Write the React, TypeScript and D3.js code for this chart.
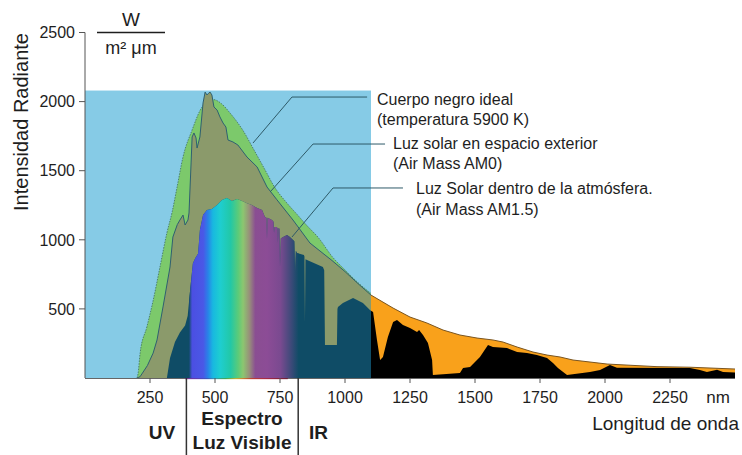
import React from "react";
import * as d3 from "d3";

const W = 742;
const H = 455;

// Blackbody (5900 K) curve — nm, W/(m² µm)
const bbNm = [200, 204, 212, 238, 262, 288, 315, 335, 354, 377, 412, 450, 492, 525, 558, 608, 650, 700, 723, 777, 815, 850, 900, 950, 1000, 1050, 1100];
const bbVal = [0, 30, 180, 370, 560, 800, 1050, 1200, 1380, 1600, 1795, 1960, 2015, 1985, 1917, 1790, 1650, 1480, 1400, 1265, 1185, 1110, 1010, 880, 782, 690, 612];

// AM0 (outer space)
const am0Nm = [200, 212, 240, 262, 277, 300, 327, 338, 355, 365, 377, 385, 396, 400, 408, 412, 419, 427, 431, 442, 454, 462, 469, 475, 481, 488, 496, 508, 519, 531, 542, 550, 569, 588, 623, 662, 700, 738, 800, 865, 950, 1000, 1050, 1100, 1185, 1250, 1315, 1377, 1442, 1508, 1569, 1608, 1662, 1723, 1777, 1827, 1877, 2008, 2200, 2327, 2500];
const am0Val = [0, 10, 90, 180, 275, 514, 803, 1020, 1110, 1143, 1179, 1107, 1143, 1194, 1556, 1744, 1773, 1737, 1664, 1744, 1990, 2069, 2048, 2060, 2069, 2048, 1961, 1939, 1889, 1845, 1816, 1722, 1708, 1686, 1599, 1527, 1382, 1290, 1143, 977, 850, 770, 683, 600, 506, 441, 398, 347, 311, 289, 275, 260, 224, 188, 166, 152, 130, 101, 82, 78, 65];

// AM1.5 (inside atmosphere)
const am15Nm = [315, 327, 346, 365, 385, 395, 405, 415, 425, 435, 442, 454, 469, 488, 508, 527, 546, 565, 585, 604, 623, 642, 662, 681, 692, 698, 700, 702, 719, 725, 727, 729, 738, 741, 742, 744, 748, 750, 753, 762, 777, 788, 800, 805, 808, 811, 815, 842, 844, 846, 848, 854, 915, 920, 923, 969, 971, 973, 992, 1031, 1069, 1096, 1108, 1123, 1135, 1146, 1165, 1185, 1200, 1223, 1250, 1277, 1285, 1300, 1319, 1335, 1338, 1442, 1454, 1481, 1519, 1550, 1569, 1623, 1662, 1700, 1738, 1777, 1800, 1819, 1854, 1942, 1981, 2019, 2046, 2327, 2365, 2392, 2431, 2454, 2500];
const am15Val = [0, 145, 260, 330, 380, 450, 650, 830, 870, 900, 1071, 1180, 1216, 1223, 1251, 1288, 1302, 1280, 1295, 1280, 1265, 1251, 1230, 1216, 1165, 1160, 1000, 1160, 1143, 1130, 1049, 1092, 1092, 1080, 977, 1085, 1080, 803, 1010, 1020, 1035, 1020, 999, 990, 760, 920, 904, 890, 880, 398, 860, 854, 803, 780, 239, 239, 500, 514, 543, 579, 543, 492, 478, 275, 130, 152, 297, 405, 420, 383, 362, 333, 347, 311, 253, 130, 22, 36, 72, 80, 152, 239, 224, 217, 188, 181, 166, 145, 109, 72, 22, 43, 58, 94, 75, 72, 58, 43, 60, 43, 40];

const xTicks = [250, 500, 750, 1000, 1250, 1500, 1750, 2000, 2250];
const yTicks = [500, 1000, 1500, 2000, 2500];

const panelMaxNm = 1100;
const panelMaxVal = 2080;
const visibleDividers = [390, 820];

// spectrum gradient stops: nm, colour
const specNm = [400, 412, 455, 472, 492, 520, 560, 590, 608, 632, 655, 700, 752, 795, 822];
const specCol = ["#0F4C66", "#4B4FE2", "#4A58E6", "#2A80E8", "#18B8E0", "#1ECED0", "#22C8A6", "#5DCB78", "#8CC670", "#98907A", "#8A4E92", "#8C4C96", "#7A4A90", "#3A4A78", "#0F4C66"];
const stripNm = [385, 430, 470, 500, 540, 580, 600, 640, 700, 780];
const stripCol = ["#7a1fa0", "#5a2ad0", "#2a50e0", "#20b0d0", "#30c050", "#e0d020", "#f0a020", "#e03020", "#c0103a", "#700020"];

const annotations = [
  { anchor: [646, 1700], elbow: [796, 2033], lineEnd: 1085, lines: ["Cuerpo negro ideal", "(temperatura 5900 K)"], tx: [377, 377], ty: [105, 125] },
  { anchor: [712, 1346], elbow: [877, 1693], lineEnd: 1154, lines: ["Luz solar en espacio exterior", "(Air Mass AM0)"], tx: [393, 393], ty: [149, 169] },
  { anchor: [796, 1020], elbow: [954, 1375], lineEnd: 1223, lines: ["Luz Solar dentro de la atmósfera.", "(Air Mass AM1.5)"], tx: [416, 416], ty: [194, 215] },
];

export default function App() {
  const x = d3.scaleLinear().domain([0, 2500]).range([85, 735]);
  const y = d3.scaleLinear().domain([0, 2500]).range([378, 32.5]);

  const bb = bbNm.map((n, i) => [n, bbVal[i]] as [number, number]);
  const am0 = am0Nm.map((n, i) => [n, am0Val[i]] as [number, number]);
  const am15 = am15Nm.map((n, i) => [n, am15Val[i]] as [number, number]);

  const area = d3.area<[number, number]>().x(d => x(d[0])).y0(y(0)).y1(d => y(d[1]));
  const line = d3.line<[number, number]>().x(d => x(d[0])).y(d => y(d[1]));
  const bbArea = d3.area<[number, number]>().x(d => x(d[0])).y0(y(0)).y1(d => y(d[1])).curve(d3.curveMonotoneX);
  const bbLine = d3.line<[number, number]>().x(d => x(d[0])).y(d => y(d[1])).curve(d3.curveMonotoneX);

  const font = "'Liberation Sans', Arial, Helvetica, sans-serif";
  const textCol = "#1e1e1e";
  const x0 = x(0), xp = x(panelMaxNm), xe = x(2500);
  const specX1 = x(specNm[0]), specX2 = x(specNm[specNm.length - 1]);
  const stripX1 = x(stripNm[0]), stripX2 = x(stripNm[stripNm.length - 1]);

  return (
    <svg width={W} height={H} style={{ position: "absolute", left: 0, top: 0, background: "#fff" }} fontFamily={font}>
      <defs>
        <clipPath id="leftClip"><rect x={x0} y={0} width={xp - x0} height={y(0)} /></clipPath>
        <clipPath id="rightClip"><rect x={xp} y={0} width={xe - xp + 2} height={y(0)} /></clipPath>
        <clipPath id="am15Clip"><path d={area(am15) || ""} /></clipPath>
        <linearGradient id="spec" gradientUnits="userSpaceOnUse" x1={specX1} x2={specX2} y1={0} y2={0}>
          {specNm.map((n, i) => (
            <stop key={i} offset={(x(n) - specX1) / (specX2 - specX1)} stopColor={specCol[i]} />
          ))}
        </linearGradient>
        <linearGradient id="strip" gradientUnits="userSpaceOnUse" x1={stripX1} x2={stripX2} y1={0} y2={0}>
          {stripNm.map((n, i) => (
            <stop key={i} offset={(x(n) - stripX1) / (stripX2 - stripX1)} stopColor={stripCol[i]} />
          ))}
        </linearGradient>
      </defs>

      {/* blue panel */}
      <rect x={x0} y={y(panelMaxVal)} width={xp - x0} height={y(0) - y(panelMaxVal)} fill="#86CBE6" />

      {/* blackbody */}
      <g clipPath="url(#leftClip)">
        <path d={bbArea(bb) || ""} fill="#7CC96B" />
        <path d={bbLine(bb) || ""} fill="none" stroke="#3E6E62" strokeWidth={0.8} strokeDasharray="1.5,1.2" />
      </g>

      {/* AM0 */}
      <g clipPath="url(#leftClip)">
        <path d={area(am0) || ""} fill="#8B9A6B" />
        <path d={line(am0) || ""} fill="none" stroke="#2F6070" strokeWidth={1} />
      </g>
      <g clipPath="url(#rightClip)">
        <path d={area(am0) || ""} fill="#F9A11B" />
        <path d={line(am0) || ""} fill="none" stroke="#7A5520" strokeWidth={1} />
      </g>

      {/* AM1.5 */}
      <g clipPath="url(#leftClip)">
        <path d={area(am15) || ""} fill="#0F4C66" />
      </g>
      <g clipPath="url(#am15Clip)">
        <rect x={specX1} y={y(2500)} width={specX2 - specX1} height={y(0) - y(2500)} fill="url(#spec)" />
      </g>
      <g clipPath="url(#rightClip)">
        <path d={area(am15) || ""} fill="#000" />
      </g>

      {/* axes */}
      <line x1={x0} x2={x0} y1={y(2500)} y2={y(0)} stroke="#555" strokeWidth={1} />
      <line x1={x0} x2={xe} y1={y(0) + 0.5} y2={y(0) + 0.5} stroke="#666" strokeWidth={1} />
      <rect x={stripX1} y={y(0)} width={stripX2 - stripX1} height={1.2} fill="url(#strip)" opacity={0.7} />
      {yTicks.map(t => (
        <g key={t}>
          <line x1={x0 - 6} x2={x0} y1={y(t)} y2={y(t)} stroke="#555" />
          <text x={x0 - 10} y={y(t)} dy="0.36em" textAnchor="end" fontSize={16} fill={textCol}>{t}</text>
        </g>
      ))}
      {xTicks.map(t => (
        <g key={t}>
          <line x1={x(t)} x2={x(t)} y1={y(0)} y2={y(0) + 5} stroke="#555" />
          <text x={x(t)} y={397} dy="0.36em" textAnchor="middle" fontSize={16} fill={textCol}>{t}</text>
        </g>
      ))}
      <text x={718} y={397} dy="0.36em" textAnchor="middle" fontSize={17} fill={textCol}>nm</text>

      {/* y title & units */}
      <text transform={`translate(28,122) rotate(-90)`} textAnchor="middle" fontSize={20} fill={textCol}>Intensidad Radiante</text>
      <text x={131} y={26} textAnchor="middle" fontSize={19} fill={textCol}>W</text>
      <line x1={97} x2={165} y1={32.5} y2={32.5} stroke={textCol} strokeWidth={1.3} />
      <text x={131} y={54} textAnchor="middle" fontSize={18} fill={textCol}>m² μm</text>

      {/* visible spectrum dividers */}
      {visibleDividers.map(n => (
        <line key={n} x1={x(n)} x2={x(n)} y1={y(0)} y2={H} stroke="#333" strokeWidth={1.5} />
      ))}
      <text x={162} y={432} dy="0.36em" textAnchor="middle" fontSize={19} fontWeight="bold" fill={textCol}>UV</text>
      <text x={242} y={418} dy="0.36em" textAnchor="middle" fontSize={19} fontWeight="bold" fill={textCol}>Espectro</text>
      <text x={242} y={442} dy="0.36em" textAnchor="middle" fontSize={19} fontWeight="bold" fill={textCol}>Luz Visible</text>
      <text x={309} y={432} dy="0.36em" textAnchor="start" fontSize={19} fontWeight="bold" fill={textCol}>IR</text>
      <text x={739} y={423} dy="0.36em" textAnchor="end" fontSize={19} fill={textCol}>Longitud de onda</text>

      {/* annotations */}
      {annotations.map((a, i) => (
        <g key={i}>
          <polyline
            points={`${x(a.anchor[0])},${y(a.anchor[1])} ${x(a.elbow[0])},${y(a.elbow[1])} ${x(a.lineEnd)},${y(a.elbow[1])}`}
            fill="none" stroke="#2E5A68" strokeWidth={1} />
          {a.lines.map((l, j) => (
            <text key={j} x={a.tx[j]} y={a.ty[j]} fontSize={16} fill={textCol}>{l}</text>
          ))}
        </g>
      ))}
    </svg>
  );
}
